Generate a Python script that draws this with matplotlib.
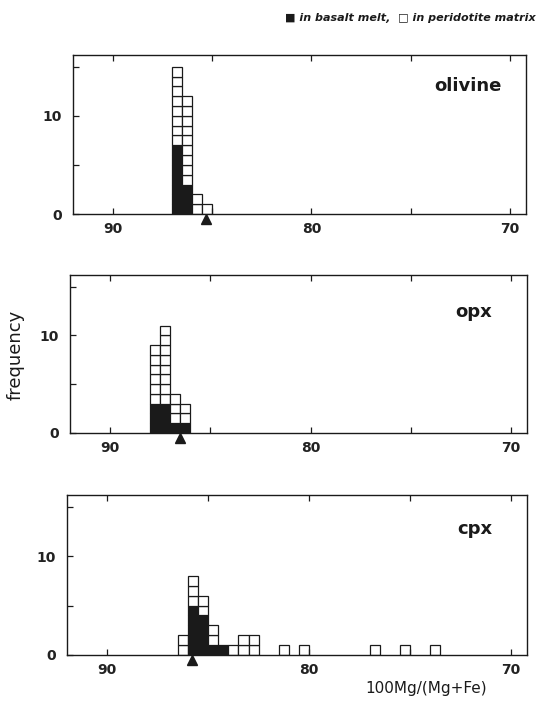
import numpy as np
import matplotlib.pyplot as plt
from matplotlib.ticker import MultipleLocator

# ---------- DATA ----------
# bin centres (0.5 wide bins), counts per bin
oliv_x      = [86.75, 86.25, 85.75, 85.25]
oliv_melt   = [7, 3, 0, 0]
oliv_matrix = [8, 9, 2, 1]
oliv_tri    = 85.3

opx_x      = [87.75, 87.25, 86.75, 86.25]
opx_melt   = [3, 3, 1, 1]
opx_matrix = [6, 8, 3, 2]
opx_tri    = 86.5

cpx_x      = [86.25, 85.75, 85.25, 84.75, 84.25, 83.75, 83.25, 82.75,
              81.25, 80.25, 76.75, 75.25, 73.75]
cpx_melt   = [0, 5, 4, 1, 1, 0, 0, 0, 0, 0, 0, 0, 0]
cpx_matrix = [2, 3, 2, 2, 0, 1, 2, 2, 1, 1, 1, 1, 1]
cpx_tri    = 85.8

panels = [
    ("olivine", oliv_x, oliv_melt, oliv_matrix, oliv_tri),
    ("opx", opx_x, opx_melt, opx_matrix, opx_tri),
    ("cpx", cpx_x, cpx_melt, cpx_matrix, cpx_tri),
]
xticks = [90, 80, 70]
xtick_labels = ["90", "80", "70"]
yticks = [0, 10]

# ---------- FIGURE ----------
W, H = 544, 714
fig = plt.figure(figsize=(W/100, H/100), dpi=100)

# pixel boxes (left, top, right, bottom)
boxes = [(73, 55, 526, 214), (70, 275, 527, 433), (67, 495, 527, 655)]
# where the panel names sit (x right edge px, y px)
name_pos = [(502, 86), (492, 312), (492, 529)]

def stack_boxes(ax, xs, melt, matrix):
    for x, m, p in zip(xs, melt, matrix):
        for k in range(m):
            ax.bar(x, 1, bottom=k, width=0.5, facecolor="#1a1a1a",
                   edgecolor="#1a1a1a", linewidth=0.9)
        for k in range(p):
            ax.bar(x, 1, bottom=m+k, width=0.5, facecolor="white",
                   edgecolor="#1a1a1a", linewidth=0.9)

for (name, xs, melt, matrix, tri), (l, t, r, b), (nx, ny) in zip(panels, boxes, name_pos):
    ax = fig.add_axes([l/W, 1-b/H, (r-l)/W, (b-t)/H])
    stack_boxes(ax, xs, melt, matrix)
    ax.plot([tri], [-0.55], marker="^", color="#1a1a1a", markersize=6.5,
            linestyle="none", clip_on=False, zorder=5)
    ax.set_xlim(92.0, 69.2)
    ax.set_ylim(0, 16.2)
    ax.set_xticks(xticks)
    ax.set_xticklabels(xtick_labels)
    ax.xaxis.set_minor_locator(MultipleLocator(5))
    ax.set_yticks(yticks)
    ax.yaxis.set_minor_locator(MultipleLocator(5))
    ax.tick_params(axis="both", which="both", direction="in", top=True,
                   length=4, width=0.9, colors="#1a1a1a")
    ax.tick_params(axis="x", which="major", pad=6, labelsize=10)
    ax.tick_params(axis="y", which="major", pad=8, labelsize=10)
    for lab in ax.get_xticklabels() + ax.get_yticklabels():
        lab.set_fontweight("bold")
        lab.set_color("#222222")
    for s in ax.spines.values():
        s.set_linewidth(1.0)
        s.set_color("#1a1a1a")
    fig.text(nx/W, 1-ny/H, name, ha="right", va="center",
             fontsize=13, fontweight="bold", color="#1a1a1a")

fig.text(0.985, 1-18/H, "\u25a0 in basalt melt,  \u25a1 in peridotite matrix",
         ha="right", va="center", fontsize=8, fontstyle="italic",
         fontweight="bold", color="#1a1a1a")
fig.text(16/W, 1-355/H, "frequency", rotation=90, ha="center", va="center",
         fontsize=13, color="#1a1a1a")
fig.text(426/W, 1-688/H, "100Mg/(Mg+Fe)", ha="center", va="center",
         fontsize=11, color="#1a1a1a")

fig.savefig("out.png", dpi=100)
